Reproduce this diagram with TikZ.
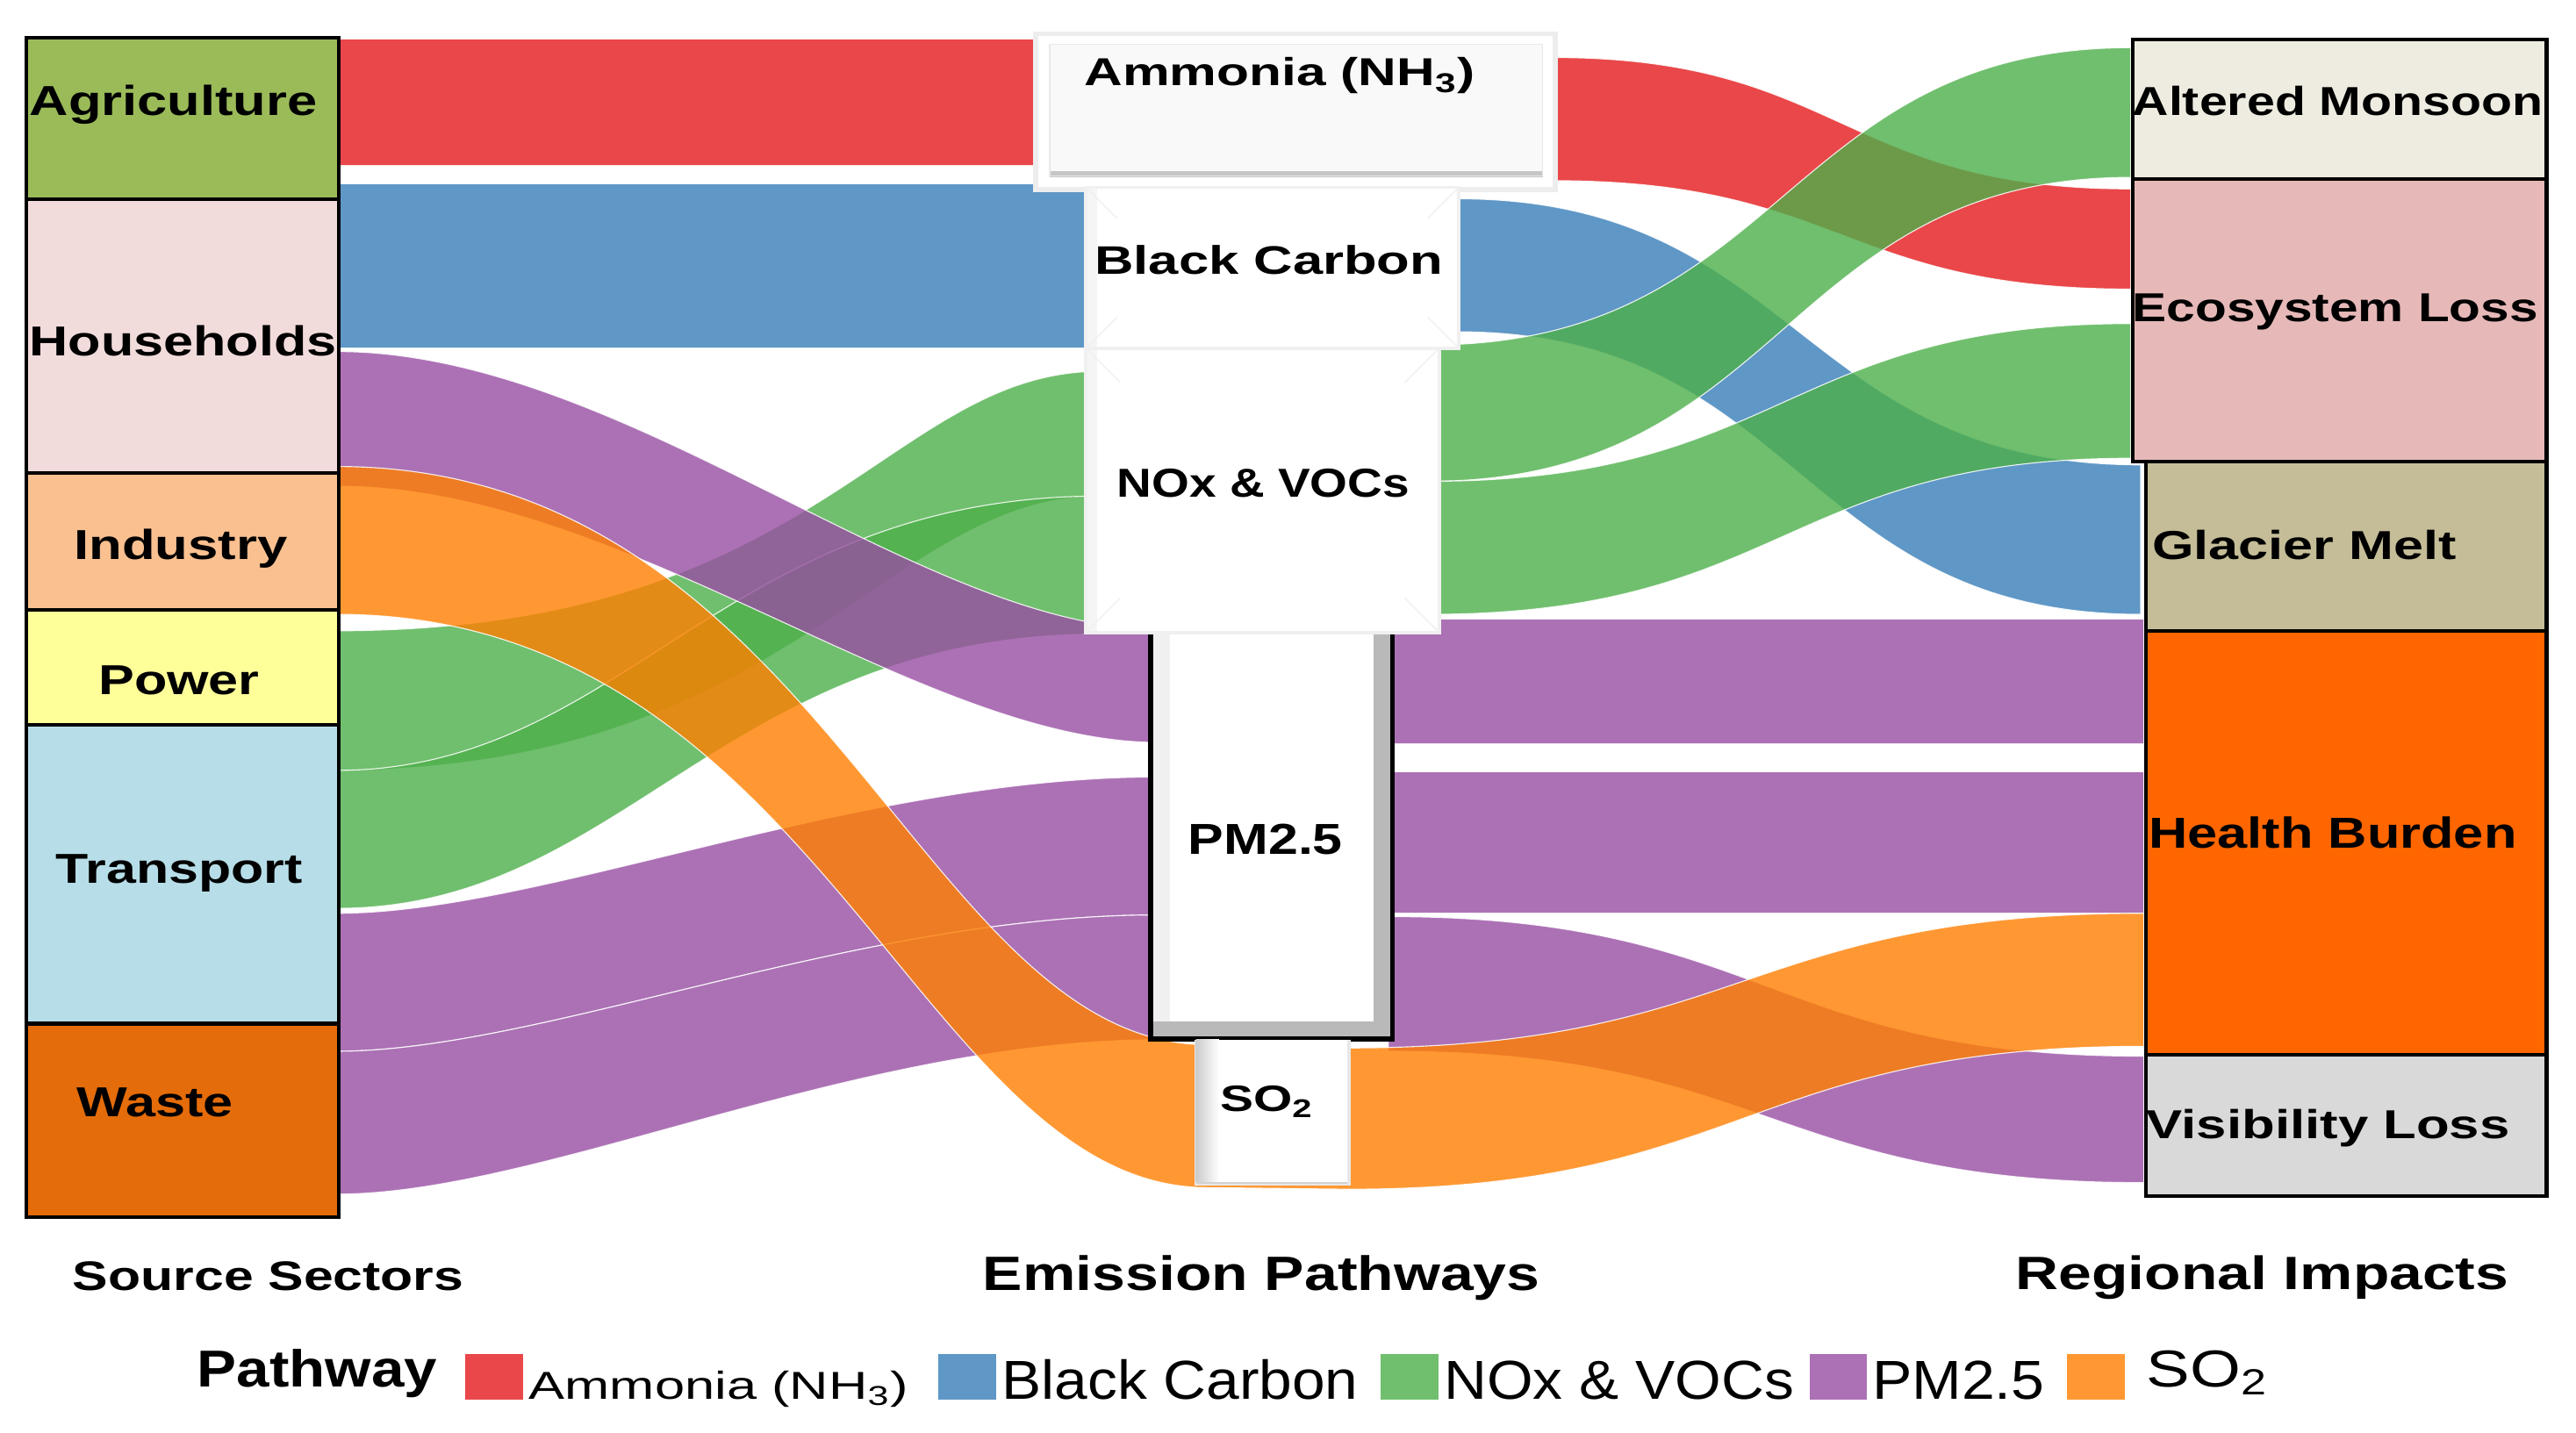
\documentclass[tikz,border=0pt]{standalone}
\usepackage{fontspec}
\setmainfont{Liberation Sans}
\newlength\upx
\setlength\upx{0.02cm}
\newcommand\fitw[2]{\resizebox{#1\upx}{\height}{#2}}
\newcommand\lbB[3]{{\fontsize{#1}{#1}\selectfont\bfseries\fitw{#2}{#3}}}
\newcommand\lbR[3]{{\fontsize{#1}{#1}\selectfont\fitw{#2}{#3}}}
\definecolor{cRed}{HTML}{E41A1C}
\definecolor{cBlue}{HTML}{377EB8}
\definecolor{cGreen}{HTML}{4DAF4A}
\definecolor{cPurple}{HTML}{984EA3}
\definecolor{cOrange}{HTML}{FF7F00}
\definecolor{cAgri}{HTML}{9BBB59}
\definecolor{cHouse}{HTML}{F2DCDB}
\definecolor{cInd}{HTML}{FAC090}
\definecolor{cPow}{HTML}{FFFF99}
\definecolor{cTrans}{HTML}{B7DEE8}
\definecolor{cWaste}{HTML}{E46C0A}
\definecolor{cMons}{HTML}{EEECE1}
\definecolor{cEco}{HTML}{E6B9B8}
\definecolor{cGlac}{HTML}{C4BD97}
\definecolor{cHealth}{HTML}{FF6600}
\definecolor{cVis}{HTML}{D9D9D9}
\tikzset{
  band/.style={fill opacity=0.8, draw=white, draw opacity=0.85, line width=0.35pt},
  secbox/.style={draw=black, line width=1.3pt, rectangle, inner sep=0pt, anchor=north west},
  lab/.style={anchor=base west, inner sep=0pt, outer sep=0pt},
  legsq/.style={rectangle, fill opacity=0.8, draw=none, inner sep=0pt, anchor=north west, minimum width=0.7cm, minimum height=0.56cm},
}
\newcommand\sband[9]{\path[band,fill=#1] (#2,#3) .. controls (#5,#3) and (#6,#8) .. (#7,#8) -- (#7,#9) .. controls (#6,#9) and (#5,#4) .. (#2,#4) -- cycle;}
\begin{document}
\begin{tikzpicture}[x=0.02cm,y=-0.02cm]
\useasboundingbox (0,0) rectangle (1568,872);
\fill[white] (0,0) rectangle (1568,872);

% ---------- red links
\sband{cRed}{205}{24}{101}{420}{420}{640}{24}{101}
\sband{cRed}{945}{35}{110}{1121}{1121}{1297}{115}{176}
% ---------- blue links
\sband{cBlue}{205}{112}{212}{430}{430}{670}{112}{212}
\sband{cBlue}{887}{121}{202}{1095}{1095}{1303}{283}{374}
% ---------- green links
\path[band,fill=cGreen] (205,384) .. controls (500,384) and (540,226) .. (670,226) -- (670,302) .. controls (540,302) and (480,469) .. (205,469) -- cycle;
\sband{cGreen}{205}{469}{553}{380}{440}{670}{302}{386}
\sband{cGreen}{870}{210}{293}{1086}{1086}{1297}{29}{108}
\sband{cGreen}{870}{293}{374}{1086}{1086}{1297}{197}{279}
% ---------- purple links
\sband{cPurple}{205}{214}{296}{380}{560}{705}{383}{452}
\sband{cPurple}{205}{556}{640}{330}{520}{705}{473}{557}
\sband{cPurple}{205}{640}{727}{330}{520}{705}{557}{633}
\sband{cPurple}{845}{377}{453}{1075}{1075}{1305}{377}{453}
\sband{cPurple}{845}{470}{556}{1075}{1075}{1305}{470}{556}
\sband{cPurple}{845}{558}{640}{1076}{1076}{1305}{643}{720}
% ---------- orange link (Industry -> SO2 -> Health Burden)
\path[band,fill=cOrange] (205,284) .. controls (500,284) and (560,636) .. (735,636) -- (820,638)
  .. controls (1062,638) and (1062,556) .. (1305,556) -- (1305,637)
  .. controls (1062,637) and (1062,724) .. (820,724) -- (735,723)
  .. controls (560,723) and (500,374) .. (205,374) -- cycle;

% ---------- source sector boxes
\node[secbox, fill=cAgri,  minimum width=3.8cm, minimum height=1.96cm] (agri)  at (15,22)  {};
\node[secbox, fill=cHouse, minimum width=3.8cm, minimum height=3.34cm] (house) at (15,120) {};
\node[secbox, fill=cInd,   minimum width=3.8cm, minimum height=1.66cm] (ind)   at (15,287) {};
\node[secbox, fill=cPow,   minimum width=3.8cm, minimum height=1.40cm] (pow)   at (15,370) {};
\node[secbox, fill=cTrans, minimum width=3.8cm, minimum height=3.64cm] (trans) at (15,440) {};
\node[secbox, fill=cWaste, minimum width=3.8cm, minimum height=2.36cm] (waste) at (15,622) {};
% ---------- impact boxes
\node[secbox, fill=cMons,   minimum width=5.04cm, minimum height=1.70cm] (mons)   at (1297,23)  {};
\node[secbox, fill=cEco,    minimum width=5.04cm, minimum height=3.44cm] (eco)    at (1297,108) {};
\node[secbox, fill=cGlac,   minimum width=4.88cm, minimum height=2.06cm] (glac)   at (1305,280) {};
\node[secbox, fill=cHealth, minimum width=4.88cm, minimum height=5.16cm] (health) at (1305,383) {};
\node[secbox, fill=cVis,    minimum width=4.88cm, minimum height=1.72cm] (vis)    at (1305,641) {};

% ---------- pathway boxes (bevelled)
% Ammonia
\fill[gray!14] (629,19) rectangle (948,117);
\fill[white] (632,22) rectangle (945,114);
\fill[gray!5] (639,27) rectangle (939,107);
\fill[gray!45] (639,104) rectangle (939,108);
\draw[gray!18, line width=0.4pt] (639,27) rectangle (939,107);
% PM2.5
\fill[black] (699,383) rectangle (849,634);
\fill[gray!55] (702,383) rectangle (846,631);
\fill[gray!12] (702,383) rectangle (712,622);
\fill[white] (712,383) rectangle (836,622);
% Black Carbon
\fill[gray!12] (660,113) rectangle (889,213);
\fill[white] (662,115) rectangle (887,211);
\fill[gray!8] (662,115) rectangle (668,211);
\draw[gray!12, line width=0.4pt] (662,115) -- (680,133) (887,115) -- (869,133) (662,211) -- (680,193) (887,211) -- (869,193);
% NOx & VOCs
\fill[gray!12] (660,211) rectangle (877,386);
\fill[white] (662,213) rectangle (875,384);
\fill[gray!8] (662,213) rectangle (668,384);
\draw[gray!12, line width=0.4pt] (662,213) -- (682,233) (875,213) -- (855,233) (662,384) -- (682,364) (875,384) -- (855,364);
% SO2
\fill[gray!18] (727,633) rectangle (822,722);
\fill[white] (728,633) rectangle (820,720);
\shade[left color=gray!40, right color=white] (728,633) rectangle (742,720);
\draw[gray!35, line width=0.5pt] (728,720) -- (820,720);

% ---------- labels
\node[lab] (tAgri)  at (18,70)    {\lbB{14.5}{175}{Agriculture}};
\node[lab] (tHouse) at (18,216.7) {\lbB{14.5}{187}{Households}};
\node[lab] (tInd)   at (45,340.6) {\lbB{14.5}{130}{Industry}};
\node[lab] (tPow)   at (60,423)   {\lbB{14.5}{98}{Power}};
\node[lab] (tTrans) at (34,537.6) {\lbB{14.5}{150}{Transport}};
\node[lab] (tWaste) at (47,680)   {\lbB{14.5}{95}{Waste}};

\node[lab] (tMons)   at (1298,70.3)  {\lbB{14}{250}{Altered Monsoon}};
\node[lab] (tEco)    at (1298,196)   {\lbB{14}{247}{Ecosystem Loss}};
\node[lab] (tGlac)   at (1310,340.7) {\lbB{14}{185}{Glacier Melt}};
\node[lab] (tHealth) at (1308,516.5) {\lbB{15}{224}{Health Burden}};
\node[lab] (tVis)    at (1306.6,693) {\lbB{14}{221}{Visibility Loss}};

\node[lab] (tNH) at (660,52.3)    {\lbB{13.5}{238}{Ammonia (NH\textsubscript{3})}};
\node[lab] (tBC) at (666.4,166.8) {\lbB{13.8}{212}{Black Carbon}};
\node[lab] (tNO) at (680,302.5)   {\lbB{14}{178}{NOx \& VOCs}};
\node[lab] (tPM) at (723.3,520.3) {\lbB{15}{94}{PM2.5}};
\node[lab] (tSO) at (742.6,676.8) {\lbB{12.7}{57}{SO\textsubscript{2}}};

\node[lab] (hSrc) at (44.3,785.6)  {\lbB{14.3}{238}{Source Sectors}};
\node[lab] (hEm)  at (598.3,785.6) {\lbB{16.7}{339}{Emission Pathways}};
\node[lab] (hImp) at (1227,785)    {\lbB{16.2}{300}{Regional Impacts}};

% ---------- legend
\node[lab] (legT) at (120,844.3) {\lbB{18}{146}{Pathway}};
\node[legsq, fill=cRed]    (sqR) at (283,824) {};
\node[legsq, fill=cBlue]   (sqB) at (571,824) {};
\node[legsq, fill=cGreen]  (sqG) at (840,824) {};
\node[legsq, fill=cPurple] (sqP) at (1101,824) {};
\node[legsq, fill=cOrange] (sqO) at (1258,824) {};
\node[lab] (lR) at (322,851.8)    {\lbR{13.5}{231}{Ammonia (NH\textsubscript{3})}};
\node[lab] (lB) at (609.8,851.8)  {\lbR{19}{217}{Black Carbon}};
\node[lab] (lG) at (879,851.8)    {\lbR{19}{213}{NOx \& VOCs}};
\node[lab] (lP) at (1139.6,851.8) {\lbR{19}{105}{PM2.5}};
\node[lab] (lO) at (1306.6,844.3) {\lbR{18}{74}{SO\textsubscript{2}}};
\end{tikzpicture}
\end{document}
